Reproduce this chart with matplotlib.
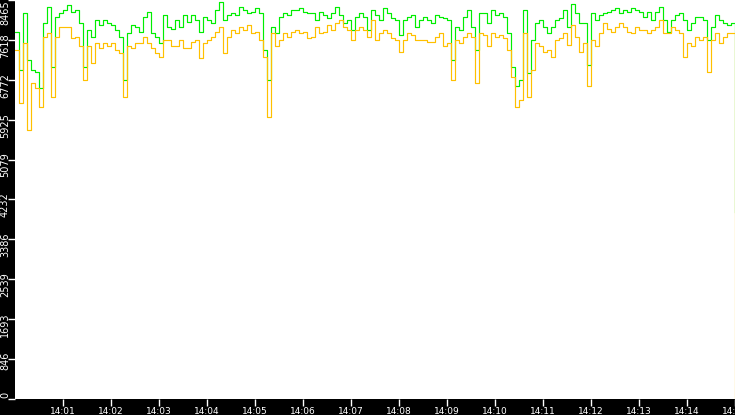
import numpy as np
import pandas as pd
import matplotlib
matplotlib.use('Agg')
import matplotlib.pyplot as plt
import matplotlib.dates as mdates
import matplotlib.transforms as mtransforms

# one sample every 5 seconds, 14:00:00 .. 14:15:00
times = pd.date_range('2021-01-01 14:00:00', periods=181, freq='5s')

green = [7790, 6980, 8180, 7190, 6980, 6940, 6590, 7970, 8320, 7050,
         8110, 8180, 8250, 8360, 8220, 8250, 7970, 7050, 7830, 7690,
         8040, 7930, 8040, 7970, 7930, 7830, 7690, 6770, 7760, 7930,
         7900, 7790, 8110, 8220, 7760, 7690, 7550, 8150, 7900, 7860,
         8040, 7900, 8150, 8000, 8150, 8040, 7790,
         8110, 8040, 7970, 8250, 8430, 8040, 8150, 8180, 8150, 8320,
         8250, 8180, 8220, 8290, 8180, 7400, 6770, 7900, 7760, 8110,
         8180, 8150, 8250, 8250, 8290, 8220, 8180,
         8180, 8040, 8220, 8150, 8080, 8180, 8320, 8150, 7970, 8040,
         7830, 8110, 8180, 8110, 7830, 8250, 8150, 8040, 8290, 8180,
         8080, 8040, 7720, 8040, 8110, 8150, 7900, 8040,
         8110, 8040, 7970, 8150, 8110, 8080, 8040, 7190, 7900, 7830,
         8110, 8250, 7900, 7400, 8180, 8180, 7970, 8250, 8150, 8180,
         8110, 7760, 7050, 6630, 6770, 8250, 6910,
         7620, 7970, 8040, 7900, 7760, 7900, 8040, 8080, 8250, 7900,
         8390, 8180, 7970, 7970, 7090, 8180, 8040, 8150, 8180, 8220,
         8250, 8290, 8180, 8250, 8220, 8290, 8250, 8220,
         8110, 8220, 8040, 8220, 8320, 8040, 7790, 8040, 8150, 8180,
         8040, 7830, 7970, 8110, 8110, 8040, 7620, 7900, 8150, 8040,
         7970, 7930, 7970,
         3970]

orange = [7400, 6270, 7550, 5710, 6700, 6590, 6200, 7690, 7760, 6410,
          7690, 7900, 7900, 7900, 7650, 7690, 7480, 6770, 7480, 7120,
          7550, 7440, 7550, 7480, 7550, 7400, 7330, 6410, 7480, 7440,
          7550, 7550, 7690, 7550, 7440, 7330, 7260, 7620, 7620, 7480,
          7480, 7620, 7440, 7440, 7580, 7620, 7230,
          7550, 7620, 7690, 7790, 7900, 7330, 7690, 7830, 7760, 7900,
          7830, 7930, 7760, 7790, 7620, 7260, 5990, 7760, 7480, 7620,
          7760, 7690, 7790, 7830, 7760, 7790, 7650,
          7690, 7900, 7760, 7790, 7930, 7830, 7970, 8040, 7900, 7830,
          7620, 7830, 7900, 7830, 7690, 8040, 7620, 7760, 7830, 7760,
          7650, 7620, 7370, 7620, 7760, 7720, 7620, 7620,
          7620, 7580, 7580, 7690, 7760, 7480, 7550, 6770, 7620, 7550,
          7690, 7760, 7690, 6700, 7760, 7720, 7480, 7760, 7690, 7720,
          7650, 7400, 6840, 6200, 6340, 7760, 6410,
          6980, 7550, 7480, 7370, 7400, 7260, 7620, 7650, 7760, 7510,
          7930, 7690, 7370, 7550, 6630, 7620, 7480, 7760, 7970, 7860,
          7790, 7900, 7970, 7900, 7790, 7760, 7900, 7830,
          7830, 7760, 7830, 7900, 8040, 7760, 7760, 7900, 7830, 7760,
          7260, 7550, 7480, 7690, 7620, 7690, 6940, 7620, 7760, 7550,
          7690, 7760, 7760,
          0]

ytick_values = [0, 846.5, 1693, 2539.5, 3386, 4232.5, 5079, 5925.5, 6772, 7618.5, 8465]
ytick_labels = ['0', '846', '1693', '2539', '3386', '4232', '5079', '5925', '6772', '7618', '8465']

fig = plt.figure(figsize=(7.35, 4.15), dpi=100, facecolor='black')
ax = fig.add_axes([15/735, 16/415, 720/735, 399/415])
ax.set_facecolor('white')

ax.plot(times, green, color='#00ee00', lw=0.85, drawstyle='steps-post')
ax.plot(times, orange, color='#ffc000', lw=0.85, drawstyle='steps-post')

ax.set_xlim(times[0], times[-1])
ax.set_ylim(0, 8465)
for s in ax.spines.values():
    s.set_visible(False)

ax.xaxis.set_major_locator(mdates.MinuteLocator(byminute=range(1, 60)))
ax.xaxis.set_major_formatter(mdates.DateFormatter('%H:%M'))
ax.tick_params(axis='x', colors='white', length=5, width=1, labelsize=6.5, pad=0.5)

ax.set_yticks(ytick_values)
ax.tick_params(axis='y', colors='white', length=5, width=1, labelleft=False)

# rotated y labels sitting in the black strip
tr = ax.get_yaxis_transform()
for v, lab in zip(ytick_values, ytick_labels):
    if v == ytick_values[-1]:
        t = tr
    else:
        t = tr + mtransforms.ScaledTranslation(0, 7/100, fig.dpi_scale_trans)
    ax.text(-10/720, v, lab, transform=t, rotation=90, ha='center', va='top',
            color='white', fontsize=7, clip_on=False)

fig.savefig('out.png', dpi=100, facecolor='black')
